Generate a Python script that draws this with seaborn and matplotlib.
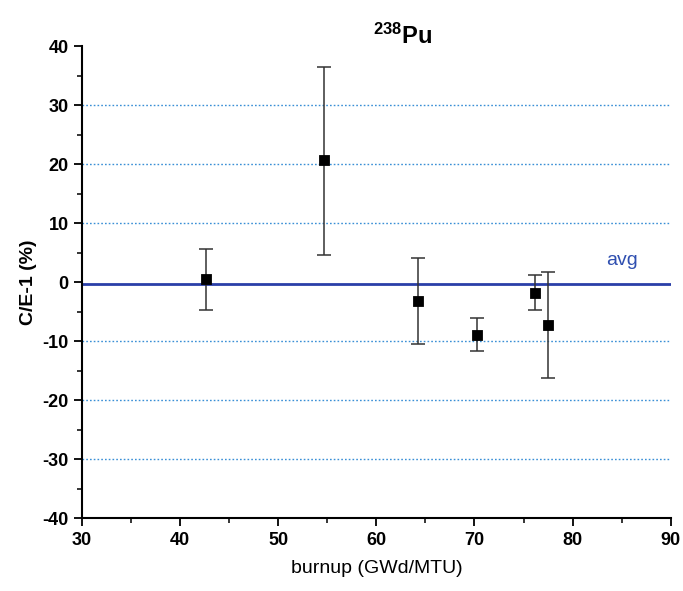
import numpy as np
import pandas as pd
import matplotlib
matplotlib.use("Agg")
import matplotlib.pyplot as plt
from matplotlib.ticker import MultipleLocator
import seaborn as sns

# values
burnup = [42.6, 54.7, 64.2, 70.3, 76.2, 77.5]
ce = [0.6, 20.7, -3.2, -8.9, -1.8, -7.3]
err_top = [5.6, 36.5, 4.1, -6.0, 1.2, 1.7]
err_bottom = [-4.7, 4.6, -10.5, -11.7, -4.7, -16.2]
avg_value = -0.3
grid_levels = [-30, -20, -10, 10, 20, 30]

df = pd.DataFrame({"burnup": burnup, "ce": ce})

sns.set_style("ticks")
plt.rcParams['font.family'] = ['Liberation Sans', 'DejaVu Sans']
plt.rcParams['axes.unicode_minus'] = False
plt.rcParams['mathtext.fontset'] = 'custom'
plt.rcParams['mathtext.rm'] = 'Liberation Sans'
plt.rcParams['mathtext.bf'] = 'Liberation Sans:bold'
plt.rcParams['text.color'] = 'black'
plt.rcParams['axes.labelcolor'] = 'black'
plt.rcParams['xtick.color'] = 'black'
plt.rcParams['ytick.color'] = 'black'

fig = plt.figure(figsize=(6.83, 5.91), dpi=100)
ax = fig.add_axes([0.12, 0.123, 0.862, 0.799])

for g in grid_levels:
    ax.axhline(g, color='#3a8fd6', lw=1.0, ls=(0, (1.2, 1.5)), zorder=1)

ax.axhline(avg_value, color='#2a3fa8', lw=2.0, zorder=2)
ax.text(85.0, 3.6, 'avg', color='#2f4fb0', fontsize=14, ha='center', va='center')

lower = np.array(ce) - np.array(err_bottom)
upper = np.array(err_top) - np.array(ce)
ax.errorbar(burnup, ce, yerr=[lower, upper], fmt='none', ecolor='#333333',
            elinewidth=1.1, capsize=5, capthick=1.1, zorder=3)
sns.scatterplot(data=df, x='burnup', y='ce', marker='s', s=55, color='black',
                edgecolor='black', ax=ax, zorder=4)

ax.set_xlim(30, 90)
ax.set_ylim(-40, 40)
ax.xaxis.set_major_locator(MultipleLocator(10))
ax.xaxis.set_minor_locator(MultipleLocator(5))
ax.yaxis.set_major_locator(MultipleLocator(10))
ax.yaxis.set_minor_locator(MultipleLocator(5))
ax.tick_params(which='major', length=6, width=1.3, labelsize=13, direction='out')
ax.tick_params(which='minor', length=3.5, width=1.1, direction='out')
for lab in ax.get_xticklabels() + ax.get_yticklabels():
    lab.set_fontweight('bold')

sns.despine(ax=ax)
for side in ['left', 'bottom']:
    ax.spines[side].set_linewidth(1.5)
    ax.spines[side].set_color('black')

ax.set_xlabel('burnup (GWd/MTU)', fontsize=14, labelpad=8)
ax.set_ylabel('C/E-1 (%)', fontsize=14, fontweight='bold', labelpad=4)
ax.text(0.545, 0.995, r'$\mathbf{^{238}Pu}$', transform=ax.transAxes,
        fontsize=17, ha='center', va='bottom')

fig.savefig('out.png', dpi=100)
